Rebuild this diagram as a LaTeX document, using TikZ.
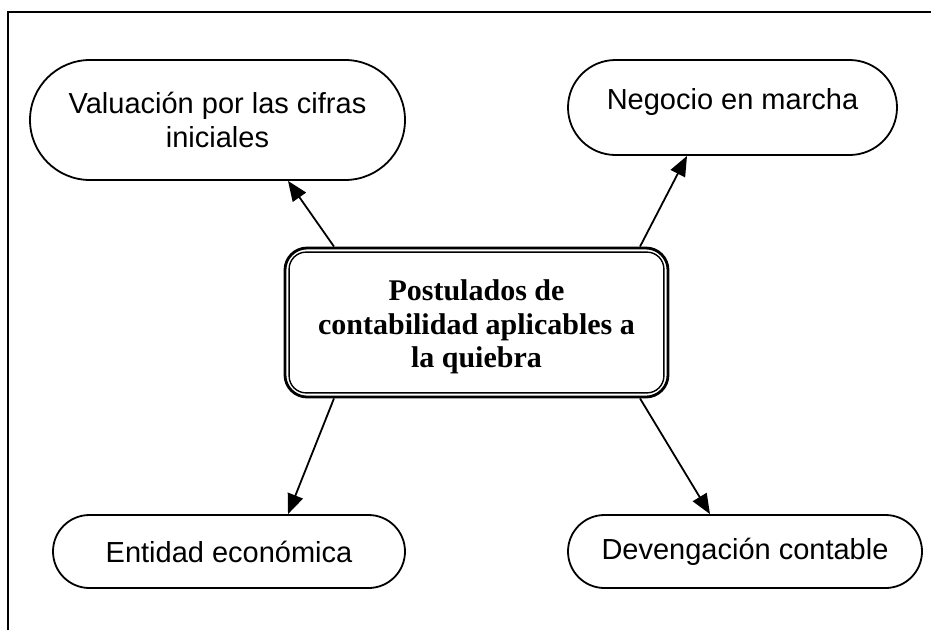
\documentclass[tikz,border=0pt]{standalone}
\usepackage{fontspec}
\setmainfont{Liberation Sans}
\newfontfamily\serifbold{Liberation Serif}
\usetikzlibrary{shapes.misc,arrows.meta,calc}
\begin{document}
\begin{tikzpicture}[x=1pt,y=-1pt,
  lw/.style={line width=1.8pt},
  pill/.style={rounded rectangle, draw, lw, inner sep=0pt, align=center,
    font=\fontsize{29}{34}\selectfont},
  conn/.style={lw, -{Triangle[length=20pt,width=16pt]}}]
\useasboundingbox (0,0) rectangle (931,630);
\draw[lw] (8,630) -- (8,12) -- (931,12);
% outer nodes
\node[pill, minimum width=375pt, minimum height=120pt] (tl) at (217.5,120) {Valuación por las cifras\\iniciales};
\node[pill, minimum width=329pt, minimum height=95pt] (tr) at (732.5,107.5) {};
\node[font=\fontsize{29}{34}\selectfont] (trt) at (732.5,102) {Negocio en marcha};
\node[pill, minimum width=352pt, minimum height=73pt] (bl) at (229,551.5) {Entidad económica};
\node[pill, minimum width=354pt, minimum height=73pt] (br) at (745,551.5) {Devengación contable};
% centre node
\node[draw, line width=2.8pt, rounded corners=22pt, minimum width=383pt, minimum height=149pt,
  inner sep=0pt] (c) at (476.5,322.5) {};
\draw[line width=1.4pt, rounded corners=17pt]
  ($(c.north west)+(5.5,5.5)$) rectangle ($(c.south east)+(-5.5,-5.5)$);
\node[align=center, font=\serifbold\bfseries\fontsize{30}{33.5}\selectfont]
  (ct) at (476.5,327) {Postulados de\\contabilidad aplicables a\\la quiebra};
% connectors
\draw[conn] ($(c.north)+(-142.5,0)$) -- ($(tl.south)+(70.5,0)$);
\draw[conn] ($(c.north)+(163.5,0)$) -- ($(tr.south)+(-45.5,0)$);
\draw[conn] ($(c.south)+(-142.5,0)$) -- ($(bl.north)+(59,0)$);
\draw[conn] ($(c.south)+(163.5,0)$) -- ($(br.north)+(-35,0)$);
\end{tikzpicture}
\end{document}
